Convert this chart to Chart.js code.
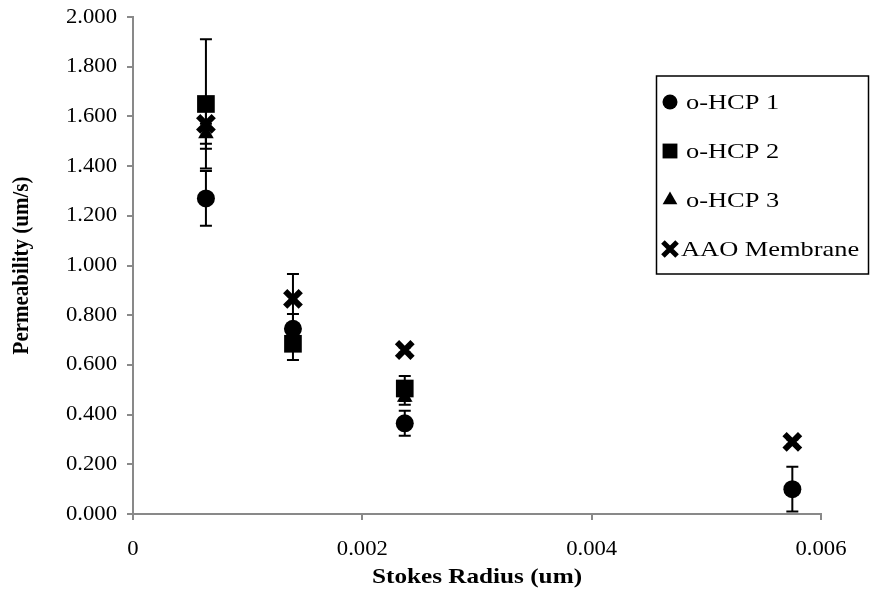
<!DOCTYPE html>
<html>
<head>
<meta charset="utf-8">
<title>Permeability vs Stokes Radius</title>
<script src="https://cdn.jsdelivr.net/npm/chart.js@4.4.0/dist/chart.umd.min.js"></script>
<style>
    body { margin: 0; background: #fff; }
    #wrap { width: 871px; height: 600px; position: relative; }
</style>
</head>
<body>
<div id="wrap"><canvas id="myChart"></canvas></div>
<script>
// stokes radius (um) of the four probe molecules
var radius = [0.000636, 0.001395, 0.00237, 0.00575];

// permeability (um/s) and std error per membrane
var hcp1 = [1.27, 0.745, 0.365, 0.10];
var hcp1Err = [0.11, 0.06, 0.05, 0.09];
var hcp2 = [1.65, 0.685, 0.505, null];
var hcp2Err = [0.26, 0.065, 0.05, 0];
var hcp3 = [1.53, 0.70, 0.47, null];
var hcp3Err = [0.04, 0.03, 0.03, 0];
var aao = [1.57, 0.866, 0.66, 0.29];
var aaoErr = [0.10, 0.10, 0.01, 0.01];

var names = ['o-HCP 1', 'o-HCP 2', 'o-HCP 3', 'AAO Membrane'];
var xAxisTitle = 'Stokes Radius (um)';
var yAxisTitle = 'Permeability (um/s)';

var FONT = '"Liberation Serif", "Times New Roman", serif';
var AXIS_GREY = '#898989';
var WIDE = 1.2;   // text is drawn a bit wider than the face

function toPoints(ys) {
    return ys.map(function (y, i) { return {x: radius[i], y: y}; });
}

var markers = [
    {pointStyle: 'circle', radius: 9, borderWidth: 0},
    {pointStyle: 'rect', radius: 12.5, borderWidth: 0},
    {pointStyle: 'triangle', radius: 9, borderWidth: 0},
    {pointStyle: 'crossRot', radius: 11, borderWidth: 6}
];
var legendMarkers = [
    {pointStyle: 'circle', radius: 7.5, borderWidth: 0},
    {pointStyle: 'rect', radius: 10.5, borderWidth: 0},
    {pointStyle: 'triangle', radius: 8.5, borderWidth: 0},
    {pointStyle: 'crossRot', radius: 10, borderWidth: 5}
];

var series = [hcp1, hcp2, hcp3, aao];
var errors = [hcp1Err, hcp2Err, hcp3Err, aaoErr];

var datasets = series.map(function (ys, i) {
    return {
        label: names[i],
        data: toPoints(ys),
        errors: errors[i],
        order: 3 - i,
        showLine: false,
        pointStyle: markers[i].pointStyle,
        pointRadius: markers[i].radius,
        pointHoverRadius: markers[i].radius,
        pointBorderWidth: markers[i].borderWidth,
        backgroundColor: '#000',
        borderColor: '#000'
    };
});

function wideText(ctx, text, x, y, align, sx, rotate) {
    ctx.save();
    ctx.translate(x, y);
    if (rotate) {
        ctx.rotate(-Math.PI / 2);
        ctx.scale(1, sx);
    } else {
        ctx.scale(sx, 1);
    }
    ctx.textAlign = align;
    ctx.fillText(text, 0, 0);
    ctx.restore();
}

// vertical error bars with caps
var errorBars = {
    id: 'errorBars',
    beforeDatasetsDraw: function (chart) {
        var ctx = chart.ctx;
        var xs = chart.scales.x, ys = chart.scales.y;
        ctx.save();
        ctx.strokeStyle = '#000';
        ctx.lineWidth = 2;
        chart.data.datasets.forEach(function (ds) {
            ds.data.forEach(function (p, j) {
                var e = ds.errors[j];
                if (!e || p.y === null) return;
                var x = xs.getPixelForValue(p.x);
                var top = ys.getPixelForValue(p.y + e);
                var bot = ys.getPixelForValue(Math.max(p.y - e, 0));
                ctx.beginPath();
                ctx.moveTo(x, top); ctx.lineTo(x, bot);
                ctx.moveTo(x - 6, top); ctx.lineTo(x + 6, top);
                ctx.moveTo(x - 6, bot); ctx.lineTo(x + 6, bot);
                ctx.stroke();
            });
        });
        ctx.restore();
    }
};

// tick labels and axis titles
var axisText = {
    id: 'axisText',
    afterDraw: function (chart) {
        var ctx = chart.ctx;
        var xs = chart.scales.x, ys = chart.scales.y;
        var area = chart.chartArea;
        ctx.save();
        ctx.fillStyle = '#000';
        ctx.textBaseline = 'middle';
        ctx.font = '21px ' + FONT;
        ys.ticks.forEach(function (t) {
            wideText(ctx, t.value.toFixed(3), area.left - 16, ys.getPixelForValue(t.value), 'right', 1.08);
        });
        xs.ticks.forEach(function (t) {
            var s = t.value === 0 ? '0' : t.value.toFixed(3);
            wideText(ctx, s, xs.getPixelForValue(t.value), area.bottom + 35, 'center', 1.08);
        });
        ctx.font = 'bold 21px ' + FONT;
        wideText(ctx, xAxisTitle, (area.left + area.right) / 2, 578, 'center', WIDE);
        wideText(ctx, yAxisTitle, 22, (area.top + area.bottom) / 2, 'center', 1.1, true);
        ctx.restore();
    }
};

// boxed legend sitting over the right part of the plot
var boxLegend = {
    id: 'boxLegend',
    afterDraw: function (chart) {
        var ctx = chart.ctx;
        ctx.save();
        ctx.fillStyle = '#fff';
        ctx.fillRect(656, 76, 213, 198);
        ctx.strokeStyle = '#000';
        ctx.lineWidth = 1.5;
        ctx.strokeRect(656.5, 76, 212, 198);
        ctx.font = '22px ' + FONT;
        ctx.textBaseline = 'middle';
        var rows = [102, 151, 200, 249];
        names.forEach(function (name, i) {
            ctx.fillStyle = '#000';
            ctx.strokeStyle = '#000';
            ctx.lineWidth = legendMarkers[i].borderWidth;
            Chart.helpers.drawPoint(ctx, {
                pointStyle: legendMarkers[i].pointStyle,
                radius: legendMarkers[i].radius,
                borderWidth: legendMarkers[i].borderWidth,
                rotation: 0
            }, 670, rows[i]);
            ctx.fillStyle = '#000';
            wideText(ctx, name, i === 3 ? 681 : 686, rows[i] + 1, 'left', WIDE);
        });
        ctx.restore();
    }
};

var ctx = document.getElementById('myChart').getContext('2d');
var chart = new Chart(ctx, {
    type: 'scatter',
    data: {datasets: datasets},
    plugins: [errorBars, axisText, boxLegend],
    options: {
        responsive: true,
        maintainAspectRatio: false,
        animation: false,
        layout: {padding: {top: 15, right: 50, left: 0, bottom: 0}},
        plugins: {
            legend: {display: false},
            tooltip: {enabled: false}
        },
        scales: {
            x: {
                type: 'linear',
                min: 0,
                max: 0.006,
                afterFit: function (scale) { scale.height = 86; },
                ticks: {stepSize: 0.002, display: false},
                grid: {drawOnChartArea: false, drawTicks: true, tickLength: 6, color: AXIS_GREY, lineWidth: 2},
                border: {color: AXIS_GREY, width: 2}
            },
            y: {
                min: 0,
                max: 2,
                afterFit: function (scale) { scale.width = 133; },
                ticks: {stepSize: 0.2, display: false},
                grid: {drawOnChartArea: false, drawTicks: true, tickLength: 6, color: AXIS_GREY, lineWidth: 2},
                border: {color: AXIS_GREY, width: 2}
            }
        }
    }
});
</script>
</body>
</html>
